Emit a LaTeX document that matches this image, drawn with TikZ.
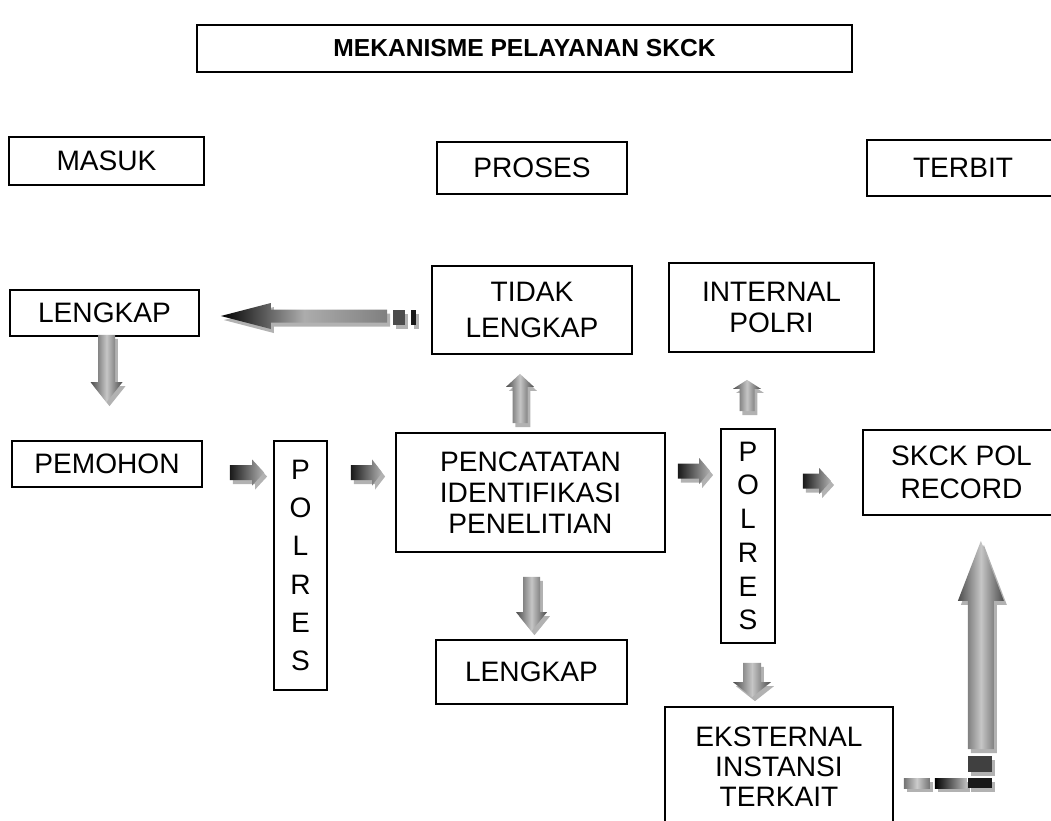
\documentclass[tikz,border=0pt]{standalone}
\usepackage{fontspec}
\setmainfont{Liberation Sans}
\usetikzlibrary{positioning,calc,shadows}

\tikzset{
  box/.style={draw, line width=1pt, align=center, inner sep=0pt, font=\fontsize{16}{17.5}\selectfont},
  sz/.style 2 args={minimum width=#1*0.02cm, minimum height=#2*0.02cm},
  blk/.style={drop shadow={shadow xshift=1.7pt, shadow yshift=-2.3pt, fill=gray!60, opacity=1}},
  hshade/.style={left color=black!90, right color=gray!60},
  lshade/.style={left color=black, right color=gray, middle color=gray!65},
  vshade/.style={left color=black!70, right color=black!70, middle color=gray!45},
  % block arrows: body half width / head half width / head length
  rblock/.style args={#1/#2/#3}{to path={-- ($(\tikztostart)+(0,-#1)$) -- ($(\tikztotarget)+(-#3,-#1)$) -- ($(\tikztotarget)+(-#3,-#2)$) -- (\tikztotarget) -- ($(\tikztotarget)+(-#3,#2)$) -- ($(\tikztotarget)+(-#3,#1)$) -- ($(\tikztostart)+(0,#1)$) -- cycle}},
  lblock/.style args={#1/#2/#3}{to path={-- ($(\tikztostart)+(0,-#1)$) -- ($(\tikztotarget)+(#3,-#1)$) -- ($(\tikztotarget)+(#3,-#2)$) -- (\tikztotarget) -- ($(\tikztotarget)+(#3,#2)$) -- ($(\tikztotarget)+(#3,#1)$) -- ($(\tikztostart)+(0,#1)$) -- cycle}},
  dblock/.style args={#1/#2/#3}{to path={-- ($(\tikztostart)+(-#1,0)$) -- ($(\tikztotarget)+(-#1,-#3)$) -- ($(\tikztotarget)+(-#2,-#3)$) -- (\tikztotarget) -- ($(\tikztotarget)+(#2,-#3)$) -- ($(\tikztotarget)+(#1,-#3)$) -- ($(\tikztostart)+(#1,0)$) -- cycle}},
  ublock/.style args={#1/#2/#3}{to path={-- ($(\tikztostart)+(-#1,0)$) -- ($(\tikztotarget)+(-#1,#3)$) -- ($(\tikztotarget)+(-#2,#3)$) -- (\tikztotarget) -- ($(\tikztotarget)+(#2,#3)$) -- ($(\tikztotarget)+(#1,#3)$) -- ($(\tikztostart)+(#1,0)$) -- cycle}}
}

\begin{document}
\begin{tikzpicture}[x=0.02cm, y=-0.02cm]
	\useasboundingbox (0,0) rectangle (1051,821);
	\clip (0,0) rectangle (1051,821);

	% boxes
	\node[box, sz={655}{47}, font=\bfseries\fontsize{14}{16}\selectfont] (title) at (524.5,48.5) {MEKANISME PELAYANAN SKCK};

	\node[box, sz={195}{48}] (masuk) at (106.5,161) {MASUK};
	\node[box, sz={190}{52}] (proses) at (532,168) {PROSES};
	\node[box, sz={192}{56}] (terbit) at (963,168) {TERBIT};

	\node[box, sz={189}{46}] (lengkapA) at (104.5,313) {LENGKAP};
	\node[box, sz={200}{88}, font=\fontsize{16}{20.5}\selectfont] (tidak) at (532,310) {TIDAK\\LENGKAP};
	\node[box, sz={205}{89}, font=\fontsize{16}{18}\selectfont] (internal) at (771.5,307.5) {INTERNAL\\POLRI};

	\node[box, sz={190}{46}] (pemohon) at (107,464) {PEMOHON};
	\node[box, sz={53}{249}, font=\fontsize{16}{21.8}\selectfont] (polresA) at (300.5,565.5) {P\\O\\L\\R\\E\\S};
	\node[box, sz={269}{119}] (pencatatan) at (530.5,492.5) {PENCATATAN\\IDENTIFIKASI\\PENELITIAN};
	\node[box, sz={54}{214}, font=\fontsize{16}{19.2}\selectfont] (polresB) at (748,536) {P\\O\\L\\R\\E\\S};
	\node[box, sz={197}{85}, font=\fontsize{16}{18.7}\selectfont] (skck) at (961.5,472.5) {SKCK POL\\RECORD};

	\node[box, sz={191}{64}] (lengkapB) at (531.5,672) {LENGKAP};
	\node[box, sz={228}{120}, font=\fontsize{16}{17}\selectfont] (eksternal) at (779,767) {EKSTERNAL\\INSTANSI\\TERKAIT};

	% arrow ends
	\coordinate (a0s) at ($(tidak.west)+(-44,6)$);
	\coordinate (a0e) at ($(lengkapA.east |- a0s)+(21,0)$);
	\coordinate (a1s) at ($(lengkapA.south)+(2,-2)$);
	\coordinate (a1e) at ($(a1s |- pemohon.north)+(0,-38)$);
	\coordinate (a2s) at ($(pemohon.east)+(27,8.5)$);
	\coordinate (a2e) at ($(polresA.west |- a2s)+(-9,0)$);
	\coordinate (a3s) at ($(polresA.east |- a2s)+(23,0)$);
	\coordinate (a3e) at ($(pencatatan.west |- a2s)+(-13,0)$);
	\coordinate (a4s) at ($(pencatatan.north)+(-10.5,-9)$);
	\coordinate (a4e) at ($(a4s |- tidak.south)+(0,19)$);
	\coordinate (a5s) at ($(pencatatan.south)+(1,24)$);
	\coordinate (a5e) at ($(a5s |- lengkapB.north)+(0,-8)$);
	\coordinate (a6s) at ($(pencatatan.east)+(12,-21.5)$);
	\coordinate (a6e) at ($(polresB.west |- a6s)+(-10,0)$);
	\coordinate (a7s) at ($(polresB.north)+(-1,-17)$);
	\coordinate (a7e) at ($(a7s |- internal.south)+(0,27)$);
	\coordinate (a8s) at ($(polresB.south)+(4,19)$);
	\coordinate (a8e) at ($(a8s |- eksternal.north)+(0,-9)$);
	\coordinate (a9s) at ($(polresB.east |- skck.west)+(27,8.5)$);
	\coordinate (a9e) at ($(skck.west |- a9s)+(-31,0)$);
	\coordinate (a10s) at ($(eksternal.north east)+(87,43)$);
	\coordinate (a10e) at ($(a10s |- skck.south)+(0,25)$);

	% arrows
	\path[blk, lshade] (a0s) to[lblock=6.5/13/50] (a0e);
	\fill[blk, black!70] ($(tidak.west)+(-38,0)$) rectangle ++(12,15);
	\fill[blk, black!90] ($(tidak.west)+(-20,0)$) rectangle ++(5,15);

	\path[blk, vshade] (a1s) to[dblock=8.5/16/20] (a1e);
	\path[blk, hshade] (a2s) to[rblock=7.5/13/12] (a2e);
	\path[blk, hshade] (a3s) to[rblock=7.5/13/10] (a3e);
	\path[blk, vshade] (a4s) to[ublock=7.5/14/13] (a4e);
	\path[blk, vshade] (a5s) to[dblock=8.5/15.5/19] (a5e);
	\path[blk, hshade] (a6s) to[rblock=7.5/13/11] (a6e);
	\path[blk, vshade] (a7s) to[ublock=7.5/14/9] (a7e);
	\path[blk, vshade] (a8s) to[dblock=9/19/15] (a8e);
	\path[blk, hshade] (a9s) to[rblock=7.5/13/12] (a9e);

	\path[blk, vshade] (a10s) to[ublock=13/23/60] (a10e);
	\fill[blk, black!75] ($(a10s)+(-13,7)$) rectangle ++(24,16);
	\path[blk, left color=gray!90!black, right color=gray!90!black, middle color=gray!40] ($(a10s)+(-77,29)$) rectangle ++(26,10);
	\path[blk, left color=black, right color=gray!50] ($(a10s)+(-46,29)$) rectangle ++(32,10);
	\fill[blk, black!90] ($(a10s)+(-13,29)$) rectangle ++(24,10);
\end{tikzpicture}
\end{document}
